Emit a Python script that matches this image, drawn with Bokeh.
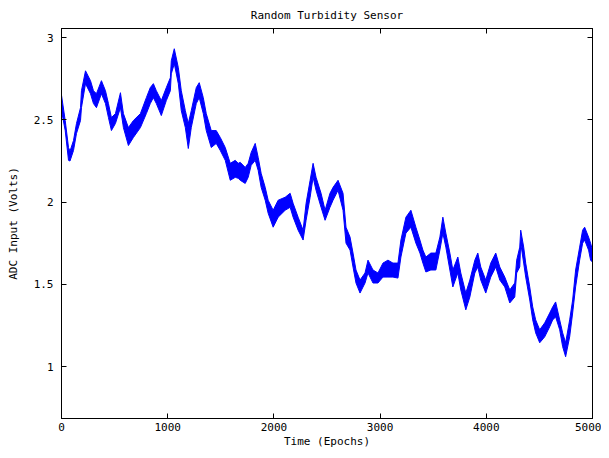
from bokeh.plotting import figure
from bokeh.models import FixedTicker, LinearAxis, Range1d, ColumnDataSource
from bokeh.embed import file_html
from bokeh.resources import INLINE

# Time (epochs) and the upper / lower edge of the noisy sensor trace (volts)
epochs = [0, 35, 66, 80, 113, 141, 179, 188, 226, 273, 301, 329, 376, 414, 442, 470, 508, 555, 583, 630,
          677, 743, 799, 836, 865, 893, 940, 987, 1025, 1034, 1062, 1100, 1128, 1166, 1194, 1222, 1269, 1297, 1335, 1363,
          1410, 1457, 1495, 1542, 1589, 1636, 1664, 1683, 1730, 1758, 1786, 1824, 1852, 1880, 1918, 1946, 1993, 2040, 2106, 2153,
          2181, 2228, 2275, 2303, 2341, 2369, 2397, 2444, 2482, 2528, 2557, 2604, 2651, 2679, 2717, 2745, 2773, 2811, 2858, 2886,
          2933, 2980, 3027, 3074, 3121, 3168, 3196, 3243, 3290, 3337, 3375, 3403, 3431, 3478, 3525, 3563, 3591, 3619, 3657, 3685,
          3732, 3760, 3807, 3845, 3892, 3920, 3948, 3995, 4042, 4089, 4127, 4174, 4221, 4268, 4286, 4315, 4324, 4352, 4371, 4409,
          4437, 4465, 4503, 4550, 4597, 4625, 4653, 4691, 4719, 4747, 4785, 4813, 4841, 4879, 4907, 4926, 4963, 4982, 5000]
volts_hi = [2.65, 2.496, 2.332, 2.31, 2.375, 2.478, 2.574, 2.677, 2.798, 2.738, 2.677, 2.659, 2.738, 2.677, 2.599, 2.514, 2.538, 2.665, 2.538, 2.453,
            2.496, 2.538, 2.635, 2.696, 2.720, 2.677, 2.617, 2.696, 2.756, 2.859, 2.932, 2.817, 2.677, 2.556, 2.478, 2.556, 2.696, 2.726, 2.635, 2.538,
            2.435, 2.435, 2.393, 2.332, 2.236, 2.254, 2.236, 2.242, 2.211, 2.236, 2.302, 2.357, 2.272, 2.175, 2.090, 2.012, 1.951, 2.012, 2.030, 2.054,
            1.993, 1.909, 1.830, 1.993, 2.133, 2.236, 2.151, 2.054, 1.951, 2.054, 2.090, 2.133, 2.054, 1.848, 1.788, 1.691, 1.588, 1.527, 1.570, 1.648,
            1.588, 1.570, 1.630, 1.648, 1.630, 1.630, 1.770, 1.909, 1.951, 1.848, 1.770, 1.709, 1.667, 1.691, 1.691, 1.788, 1.909, 1.812, 1.691, 1.588,
            1.667, 1.570, 1.448, 1.527, 1.648, 1.691, 1.606, 1.527, 1.630, 1.691, 1.606, 1.545, 1.467, 1.509, 1.648, 1.727, 1.830, 1.727, 1.630, 1.485,
            1.364, 1.285, 1.225, 1.267, 1.327, 1.364, 1.394, 1.285, 1.206, 1.146, 1.285, 1.406, 1.588, 1.727, 1.830, 1.848, 1.788, 1.751, 1.709]
volts_lo = [2.556, 2.435, 2.254, 2.25, 2.314, 2.417, 2.496, 2.574, 2.720, 2.659, 2.599, 2.574, 2.659, 2.599, 2.514, 2.435, 2.478, 2.574, 2.453, 2.344,
            2.393, 2.453, 2.538, 2.599, 2.635, 2.599, 2.526, 2.617, 2.677, 2.780, 2.841, 2.720, 2.556, 2.453, 2.326, 2.453, 2.599, 2.635, 2.538, 2.435,
            2.332, 2.357, 2.314, 2.254, 2.133, 2.151, 2.145, 2.133, 2.114, 2.151, 2.224, 2.254, 2.193, 2.090, 2.012, 1.933, 1.848, 1.909, 1.951, 1.969,
            1.909, 1.830, 1.770, 1.890, 2.030, 2.151, 2.072, 1.969, 1.890, 1.969, 2.012, 2.072, 1.951, 1.751, 1.709, 1.606, 1.509, 1.448, 1.509, 1.570,
            1.509, 1.509, 1.545, 1.545, 1.545, 1.539, 1.667, 1.812, 1.848, 1.751, 1.691, 1.630, 1.576, 1.588, 1.588, 1.709, 1.812, 1.727, 1.588, 1.485,
            1.570, 1.467, 1.346, 1.424, 1.570, 1.606, 1.527, 1.448, 1.545, 1.606, 1.527, 1.485, 1.388, 1.424, 1.570, 1.606, 1.751, 1.630, 1.545, 1.406,
            1.285, 1.206, 1.146, 1.182, 1.243, 1.285, 1.303, 1.225, 1.122, 1.061, 1.182, 1.327, 1.485, 1.648, 1.751, 1.770, 1.709, 1.648, 1.636]

x_ticks = [0, 1000, 2000, 3000, 4000, 5000]
y_ticks = [1, 1.5, 2, 2.5, 3]
y_tick_labels = ["1", "1.5", "2", "2.5", "3"]

FONT = "DejaVu Sans Mono"
FS = "11px"

src = ColumnDataSource(dict(x=epochs, hi=volts_hi, lo=volts_lo))

p = figure(width=601, height=450, output_backend="svg", toolbar_location=None,
           x_range=Range1d(0, 5000), y_range=Range1d(0.686, 3.055),
           min_border_left=61, min_border_right=9, min_border_top=27, min_border_bottom=31,
           title="Random Turbidity Sensor")

p.varea(x="x", y1="lo", y2="hi", source=src, fill_color="#0000ff")
p.line(x="x", y="hi", source=src, line_color="#0000ff", line_width=1)
p.line(x="x", y="lo", source=src, line_color="#0000ff", line_width=1)

p.title.align = "center"
p.title.text_font = FONT
p.title.text_font_size = FS
p.title.text_font_style = "normal"
p.title.text_color = "#000000"
p.title.standoff = 13
p.title.offset = 0

p.grid.visible = False
p.outline_line_color = "#000000"
p.outline_line_width = 1
p.background_fill_color = "white"
p.border_fill_color = "white"

def style(ax, labels=True):
    ax.major_tick_in = 5
    ax.major_tick_out = 0
    ax.minor_tick_in = 0
    ax.minor_tick_out = 0
    ax.axis_line_color = "#000000"
    ax.major_tick_line_color = "#000000"
    ax.major_label_text_font = FONT
    ax.major_label_text_font_size = FS if labels else "1px"
    ax.major_label_text_color = "#000000" if labels else None
    ax.axis_label_text_font = FONT
    ax.axis_label_text_font_size = FS
    ax.axis_label_text_font_style = "normal"
    ax.axis_label_text_color = "#000000"

xa = p.xaxis[0]
ya = p.yaxis[0]
xa.ticker = FixedTicker(ticks=x_ticks)
ya.ticker = FixedTicker(ticks=y_ticks)
ya.major_label_overrides = {t: l for t, l in zip(y_ticks, y_tick_labels)}
xa.axis_label = "Time (Epochs)"
ya.axis_label = "ADC Input (Volts)"
style(xa)
style(ya)
xa.major_label_standoff = 4
xa.axis_label_standoff = 1
ya.major_label_standoff = 8
ya.axis_label_standoff = 11

ra = LinearAxis(ticker=FixedTicker(ticks=y_ticks))
ta = LinearAxis(ticker=FixedTicker(ticks=x_ticks))
for ax in (ra, ta):
    style(ax, labels=False)
    ax.major_label_standoff = 0
p.add_layout(ra, "right")
p.add_layout(ta, "above")

open("out.html", "w").write(file_html(p, INLINE))
